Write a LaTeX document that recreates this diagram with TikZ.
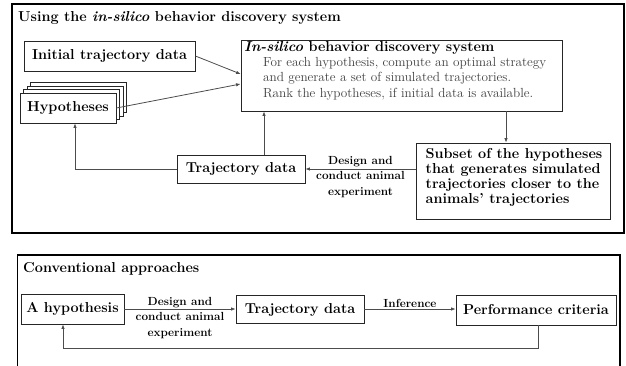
\documentclass[tikz,border=0pt]{standalone}
\usetikzlibrary{arrows.meta}
\definecolor{linegray}{gray}{0.3}
\definecolor{txtgray}{gray}{0.25}
\tikzset{
  frame/.style={draw=black, line width=1.2pt},
  box/.style={draw=black!85, line width=0.8pt, fill=white, inner sep=0pt, font=\fontsize{14.4}{15}\selectfont\bfseries},
  conn/.style={draw=linegray, line width=0.8pt, -{Latex[length=4.5pt,width=3.5pt]}},
  lbl/.style={font=\fontsize{11.75}{15.5}\selectfont\bfseries, align=center, inner sep=0pt},
  desc/.style={font=\fontsize{13.2}{15.5}\selectfont, text=txtgray, inner sep=0pt, anchor=base west},
  ttl/.style={font=\fontsize{14.4}{15}\selectfont\bfseries, inner sep=0pt, anchor=base west},
}
\begin{document}
\begin{tikzpicture}[x=1pt,y=-1pt]
\useasboundingbox (0,0) rectangle (626,366);
% top frame
\draw[frame] (12,4) rectangle (624,233);
\node[ttl] (title1) at (18,22) {Using the \textit{in-silico} behavior discovery system};
% initial data
\node[box, minimum width=171pt, minimum height=30pt] (init) at (109.5,56) {Initial trajectory data};
% hypotheses stack
\node[box, minimum width=96pt, minimum height=30pt] (hypc) at (78.5,97.5) {};
\node[box, minimum width=96pt, minimum height=30pt] (hypb) at (75,101) {};
\node[box, minimum width=96pt, minimum height=30pt] (hypa) at (71.5,104.5) {};
\node[box, minimum width=96pt, minimum height=30pt] (hyp) at (68,108) {Hypotheses};
% in-silico system
\node[box, minimum width=321pt, minimum height=71pt] (isb) at (401.5,75.5) {};
\node[ttl] (isbt) at (244,52) {\textit{In-silico} behavior discovery system};
\node[desc] (d1) at (263,66.5) {For each hypothesis, compute an optimal strategy};
\node[desc] (d2) at (263,82) {and generate a set of simulated trajectories.};
\node[desc] (d3) at (263,97.5) {Rank the hypotheses, if initial data is available.};
% trajectory data
\node[box, minimum width=128pt, minimum height=28pt] (traj) at (241,169) {Trajectory data};
% subset
\node[box, minimum width=194pt, minimum height=76pt] (sub) at (513,181) {};
\node[inner sep=0pt, align=left, font=\fontsize{14.4}{15}\selectfont\bfseries] (subt) at (514,177) {Subset of the hypotheses\\that generates simulated\\trajectories closer to the\\animals' trajectories};
% connectors top
\draw[conn] (init.east) -- (isb.west |- 0,74);
\draw[conn] (hyp.east) -- (isb.west |- 0,84);
\draw[conn] (isb.south -| 506,0) -- (sub.north -| 506,0);
\draw[conn] (sub.west |- traj.east) -- node[lbl, yshift=-8pt] (l1) {Design and\\conduct animal\\experiment} (traj.east);
\draw[conn] (traj.north -| 264,0) -- (isb.south -| 264,0);
\coordinate (c1) at (75,169);
\draw[conn] (traj.west) -- (c1) -- (hyp.south -| c1);
% bottom frame
\draw[frame] (17.5,367) -- (17.5,255) -- (620,255) -- (620,367);
\node[ttl] (title2) at (23,272) {Conventional approaches};
\node[box, minimum width=103pt, minimum height=30pt] (ahyp) at (72.5,309) {A hypothesis};
\node[box, minimum width=128pt, minimum height=28pt] (traj2) at (300,309.5) {Trajectory data};
\node[box, minimum width=160pt, minimum height=30pt] (perf) at (536,310) {Performance criteria};
\draw[conn] (ahyp.east) -- node[lbl, yshift=-9pt] (l2) {Design and\\conduct animal\\experiment} (traj2.west |- ahyp.east);
\draw[conn] (traj2.east |- 0,309) -- node[lbl, yshift=6pt] (l3) {Inference} (perf.west |- 0,309);
\coordinate (c2) at (538,348);
\coordinate (c3) at (63,348);
\draw[conn] (perf.south -| c2) -- (c2) -- (c3) -- (ahyp.south -| c3);
\end{tikzpicture}
\end{document}
